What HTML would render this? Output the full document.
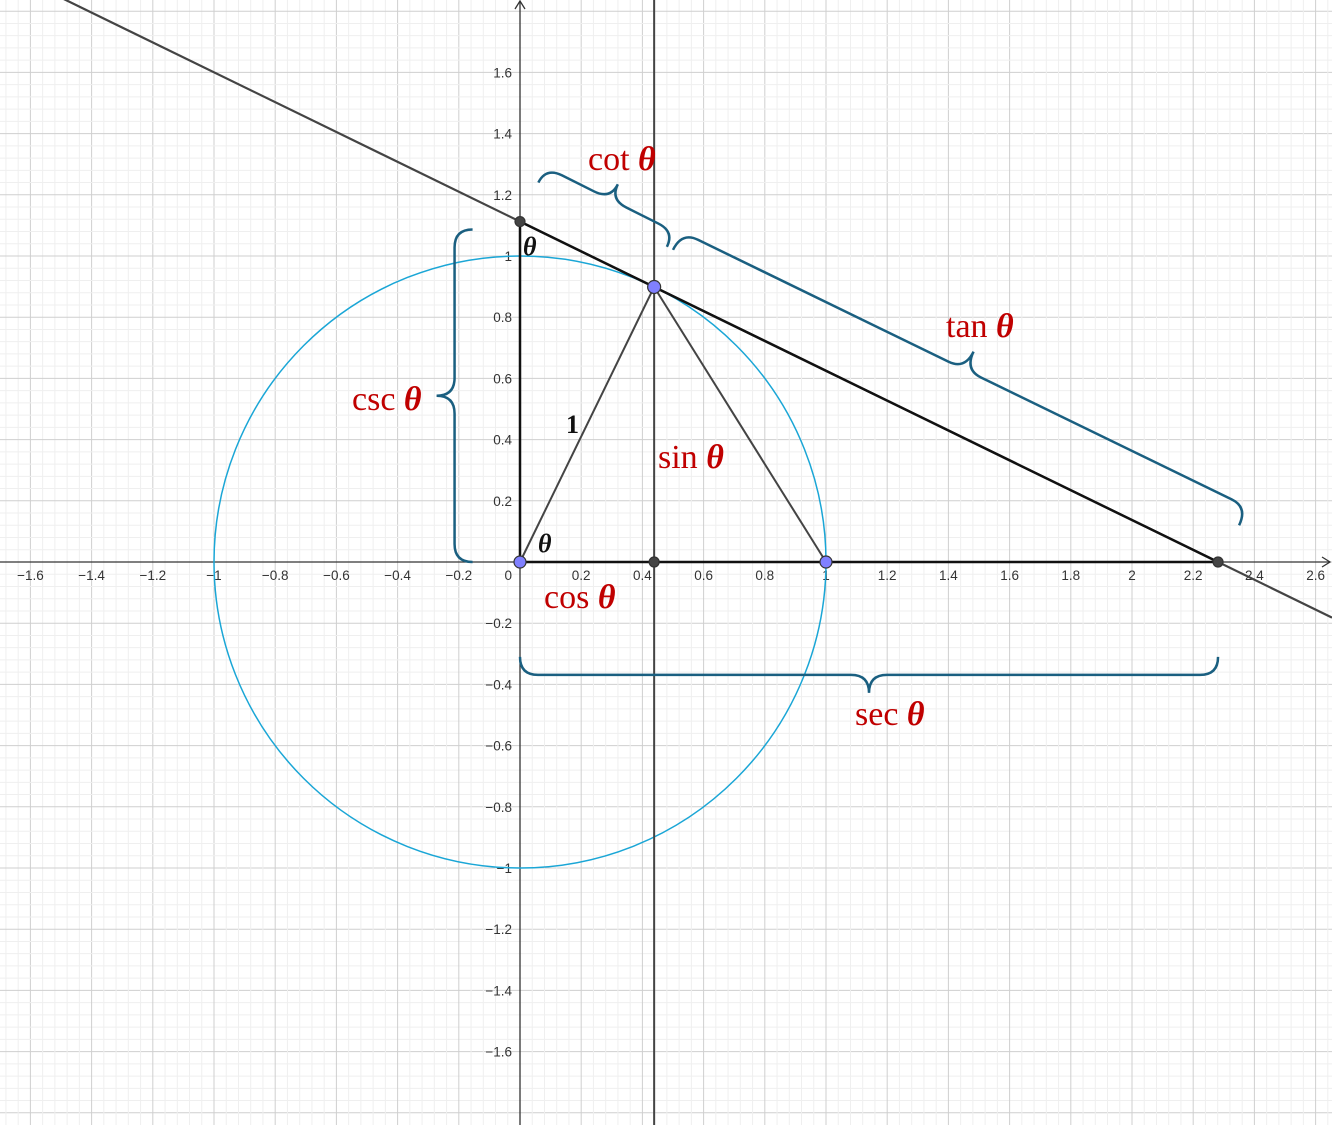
<!DOCTYPE html>
<html><head><meta charset="utf-8"><style>
html,body{margin:0;padding:0;background:#fff;}
svg{display:block;}
.tk{font-family:"Liberation Sans",sans-serif;font-size:13.5px;fill:#333;}
.lb{font-family:"Liberation Serif",serif;font-size:34px;fill:#c00000;}
</style></head><body>
<svg id="c" width="1332" height="1125" xmlns="http://www.w3.org/2000/svg">
<g id="grid"></g><g id="plot"></g>
</svg>
<script>
const theta = [64.0];
const xTicks = [-1.6,-1.4,-1.2,-1,-0.8,-0.6,-0.4,-0.2,0.2,0.4,0.6,0.8,1,1.2,1.4,1.6,1.8,2,2.2,2.4,2.6];
const yTicks = [1.6,1.4,1.2,1,0.8,0.6,0.4,0.2,-0.2,-0.4,-0.6,-0.8,-1,-1.2,-1.4,-1.6];
const NS="http://www.w3.org/2000/svg";
const ox=520, oy=562, s=306;
const X=v=>ox+v*s, Y=v=>oy-v*s;
const grid=document.getElementById('grid'), plot=document.getElementById('plot');
function mk(tag,attrs,parent){const e=document.createElementNS(NS,tag);for(const k in attrs)e.setAttribute(k,attrs[k]);(parent||plot).appendChild(e);return e;}
for(let i=-60;i<=80;i++){const v=i*0.04;const maj=i%5===0;
 const px=X(v); if(px>=0&&px<=1332){const l=mk('line',{x1:px,y1:0,x2:px,y2:1125,stroke:maj?'#cfcfcf':'#efefef','stroke-width':1},grid);
 }
 const py=Y(v); if(py>=0&&py<=1125){const l=mk('line',{x1:0,y1:py,x2:1332,y2:py,stroke:maj?'#cfcfcf':'#efefef','stroke-width':1},grid);
 }}
let a=mk('line',{x1:0,y1:oy,x2:1330,y2:oy,stroke:'#333','stroke-width':1.3});
a=mk('path',{d:`M1322 ${oy-5} L1330 ${oy} L1322 ${oy+5}`,fill:'none',stroke:'#333','stroke-width':1.3});
a=mk('line',{x1:ox,y1:1125,x2:ox,y2:1,stroke:'#333','stroke-width':1.3});
a=mk('path',{d:`M${ox-5} 9 L${ox} 1 L${ox+5} 9`,fill:'none',stroke:'#333','stroke-width':1.3});
const fmt=v=>(v<0?'\u2212':'')+String(Math.abs(Math.round(v*10)/10));
xTicks.forEach(v=>{const t=mk('text',{x:X(v),y:oy+18,'text-anchor':'middle',class:'tk'});t.textContent=fmt(v);
 });
yTicks.forEach(v=>{const t=mk('text',{x:ox-8,y:Y(v)+5,'text-anchor':'end',class:'tk'});t.textContent=fmt(v);
 });
let t=mk('text',{x:ox-8,y:oy+18,'text-anchor':'end',class:'tk'});t.textContent='0';
const th=theta[0]*Math.PI/180, c=Math.cos(th), sn=Math.sin(th), sec=1/c, csc=1/sn;
let e=mk('circle',{cx:ox,cy:oy,r:s,fill:'none',stroke:'#1aa6d6','stroke-width':1.5});
e=mk('line',{x1:X(c),y1:0,x2:X(c),y2:1125,stroke:'#444','stroke-width':2});
const ty=x=>csc*(1-x/sec);
const xl=(0-ox)/s, xr=(1332-ox)/s;
e=mk('line',{x1:X(xl),y1:Y(ty(xl)),x2:X(xr),y2:Y(ty(xr)),stroke:'#444','stroke-width':2.2});
e=mk('line',{x1:X(0),y1:Y(csc),x2:X(sec),y2:Y(0),stroke:'#111','stroke-width':2.5});
e=mk('line',{x1:X(0),y1:Y(0),x2:X(sec),y2:Y(0),stroke:'#111','stroke-width':2.5});
e=mk('line',{x1:X(0),y1:Y(0),x2:X(0),y2:Y(csc),stroke:'#111','stroke-width':2.5});
e=mk('line',{x1:X(0),y1:Y(0),x2:X(c),y2:Y(sn),stroke:'#444','stroke-width':2});
e=mk('line',{x1:X(1),y1:Y(0),x2:X(c),y2:Y(sn),stroke:'#444','stroke-width':2});
function brace(x1,y1,x2,y2,h,name){const L=Math.hypot(x2-x1,y2-y1),ang=Math.atan2(y2-y1,x2-x1)*180/Math.PI,r=Math.min(18,L/6);
 const d=`M0 0 Q0 ${h/2} ${r} ${h/2} L${L/2-r} ${h/2} Q${L/2} ${h/2} ${L/2} ${h} Q${L/2} ${h/2} ${L/2+r} ${h/2} L${L-r} ${h/2} Q${L} ${h/2} ${L} 0`;
 const p=mk('path',{d:d,fill:'none',stroke:'#1a5f80','stroke-width':2.5,transform:`translate(${x1},${y1}) rotate(${ang})`});
 }
brace(X(0),Y(-0.31),X(sec),Y(-0.31),36,'sec-brace');
brace(X(-0.155),Y(0),X(-0.155),Y(csc)+8,-36,'csc-brace');
brace(X(0.5),Y(1.02),X(2.35),Y(0.12),-40,'tan-brace');
brace(X(0.48),Y(1.03),X(0.06),Y(1.24),34,'cot-brace');
[[0,0,'origin-point','#8080ff',6],[1,0,'unit-x-point','#8080ff',6],[c,sn,'circle-point','#8080ff',6.5],[c,0,'cos-point','#444',5],[sec,0,'sec-point','#444',5],[0,csc,'csc-point','#444',5]].forEach(q=>{
 const p=mk('circle',{cx:X(q[0]),cy:Y(q[1]),r:q[4],fill:q[3],stroke:'#333','stroke-width':1.2});});
function lab(x,y,txt,name,cls,size,color){const tx=mk('text',{x:x,y:y,class:'lb'});if(size)tx.setAttribute('style',`font-size:${size}px;fill:${color}`);
 if(txt){const a=document.createElementNS(NS,'tspan');a.textContent=txt+' ';tx.appendChild(a);}
 const b=document.createElementNS(NS,'tspan');b.textContent='\u03b8';b.setAttribute('font-style','italic');b.setAttribute('font-weight','bold');tx.appendChild(b);
 }
lab(588,170,'cot','cot-label');
lab(946,337,'tan','tan-label');
lab(352,410,'csc','csc-label');
lab(658,468,'sin','sin-label');
lab(544,608,'cos','cos-label');
lab(855,725,'sec','sec-label');
lab(538,552,'','theta-angle-origin',0,26,'#111');
lab(523,255,'','theta-angle-top',0,26,'#111');
t=mk('text',{x:566,y:433,style:'font-family:"Liberation Serif",serif;font-size:26px;font-weight:bold;fill:#111'});t.textContent='1';

</script>
</body></html>
